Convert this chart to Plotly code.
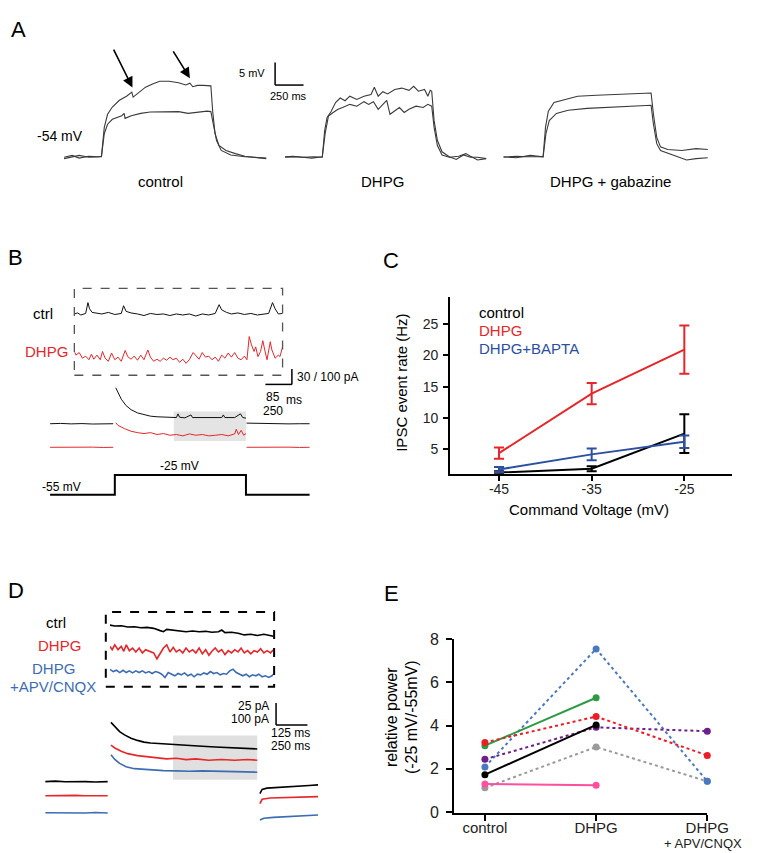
import plotly.graph_objects as go

# ---------------- DATA ----------------
# Panel A: membrane potential traces (time ms, potential mV)
a_ctrl_up_t = [0, 71, 133, 217, 300, 329, 354, 383, 425, 487, 550, 579, 596, 608, 654, 717, 779, 842,
               925, 1008, 1071, 1108, 1133, 1175, 1225, 1292, 1308, 1329, 1363, 1425, 1508, 1592, 1675, 1779]
a_ctrl_up_v = [-54.1, -53.7, -54.3, -53.9, -54, -53.9, -47.5, -44.6, -43.0, -41.5, -40.6, -40.1, -39.7, -40.8,
               -39.9, -38.6, -37.9, -37.3, -37.3, -37.6, -38.1, -37.7, -38.5, -38.2, -38.2, -38.3, -43.9, -48.9,
               -51.5, -52.6, -53.3, -53.9, -54.1, -54.4]
a_ctrl_lo_t = [0, 71, 133, 217, 329, 354, 383, 425, 508, 529, 537, 592, 675, 758, 883, 1008, 1092, 1175, 1258,
               1292, 1313, 1342, 1383, 1467, 1592, 1779]
a_ctrl_lo_v = [-54.4, -54, -53.7, -54.1, -54, -48.9, -46.8, -45.7, -44.9, -44.4, -45.5, -44.9, -44.4, -44.1,
               -44.1, -44.0, -44.4, -44.1, -43.9, -44, -46.8, -50.4, -52.6, -53.6, -54, -54.3]
a_dhpg_up_t = [0, 71, 154, 258, 329, 350, 371, 404, 446, 487, 529, 571, 633, 696, 758, 787, 821, 862, 904, 967,
               1029, 1092, 1133, 1175, 1229, 1258, 1279, 1292, 1313, 1342, 1383, 1446, 1508, 1571, 1633, 1696, 1771]
a_dhpg_up_v = [-54, -53.9, -54.1, -54, -54.1, -48.2, -45.3, -44.1, -42.0, -41.0, -41.6, -40.6, -41.3, -40.6,
               -40.2, -38.6, -40.6, -39.6, -40.1, -39.1, -38.8, -39.3, -38.4, -39.5, -39.1, -40.6, -39.3, -39.5,
               -46.0, -50.4, -52.9, -54, -54.6, -53.6, -54.1, -54.1, -54.4]
a_dhpg_lo_t = [0, 112, 237, 329, 354, 383, 425, 467, 508, 571, 633, 696, 737, 779, 821, 862, 896, 925, 967, 1008,
               1050, 1092, 1154, 1217, 1258, 1292, 1313, 1342, 1383, 1446, 1529, 1592, 1633, 1696, 1771]
a_dhpg_lo_v = [-54.1, -54, -54.3, -54, -48.9, -45, -44.2, -43.5, -43.1, -42.4, -42.8, -41.8, -42.4, -41.8, -43.5,
               -42.4, -41.5, -44.6, -43.8, -43.1, -44.2, -43.5, -42.8, -43.1, -42.4, -42.8, -47.5, -51.5, -53.6,
               -54.1, -53.9, -53.3, -53.9, -54.7, -54.4]
a_gbz_up_t = [0, 112, 237, 350, 371, 396, 446, 529, 654, 821, 987, 1154, 1300, 1321, 1350, 1383, 1446, 1571,
              1696, 1800]
a_gbz_up_v = [-54.1, -53.9, -54, -54, -47.5, -43.9, -42.0, -41.5, -40.6, -40.4, -40.2, -40, -39.9, -44.6, -49.7,
              -51.8, -52.4, -52.6, -52.2, -52.4]
a_gbz_lo_t = [0, 112, 237, 350, 375, 404, 467, 571, 737, 904, 1071, 1300, 1321, 1350, 1383, 1488, 1613, 1696, 1800]
a_gbz_lo_v = [-54, -54.2, -53.7, -54, -48.9, -46, -44.4, -43.7, -43.3, -43.1, -42.8, -42.6, -46.8, -51.1, -52.6,
              -53.6, -54.7, -54.4, -54.2]

# Panel B: inset IPSCs (time ms, current pA)
b_ins_ctrl_t = [0, 10, 20, 35, 42, 47, 55, 70, 85, 105, 125, 145, 152, 160, 175, 195, 215, 235, 255, 275, 295,
                315, 335, 355, 375, 395, 415, 435, 447, 455, 470, 485, 505, 525, 545, 565, 585, 600, 612, 620,
                630, 643]
b_ins_ctrl_i = [0, 2, -2, 1, 22, 10, 3, 2, 0, 3, -1, 1, 16, 5, 2, 0, -3, 1, -1, 0, -3, 0, -2, 0, -4, 0, -2, 1,
                18, 8, 3, 0, 2, -1, 1, -2, 0, 1, 22, 10, 0, 1]
b_ins_dhpg_t = [0, 5, 15, 25, 35, 45, 53, 60, 70, 80, 87, 95, 105, 115, 125, 135, 145, 157, 165, 175, 185, 195,
                205, 215, 227, 235, 245, 255, 265, 275, 285, 295, 305, 315, 325, 335, 345, 355, 367, 375, 385,
                395, 405, 415, 425, 435, 445, 455, 465, 475, 485, 495, 505, 515, 525, 533, 540, 547, 555, 560,
                567, 575, 582, 588, 595, 605, 610, 620, 630, 635, 643]
b_ins_dhpg_i = [13, 6, 11, 0, 4, -3, 8, -2, 6, -3, 13, 0, -6, 10, -3, 2, -6, 15, 3, -2, 4, -4, 6, -3, 16, 2, -6,
                -2, -6, 0, -4, 2, -3, 0, -8, -2, -10, -3, 11, 6, -2, 11, 2, 4, -3, 2, -6, 6, 0, 10, 2, 11, 0, -3,
                4, -3, 42, 26, 13, 22, 3, 13, 34, 16, -3, 32, 16, 0, 6, 3, 22]
# Panel B: whole-cell currents (time ms, current pA) and command voltage
b_ctrl_t = [0, 100, 200, 300, 400, 500, 595, None, 619, 640, 671, 717, 763, 824, 885, 946, 1007, 1068, 1129,
            1190, 1205, 1220, 1270, 1327, 1342, 1434, 1525, 1617, 1632, 1647, 1739, 1793, 1815, 1845, None,
            1851, 1950, 2050, 2150, 2250, 2350, 2446]
b_ctrl_i = [0, 2, -1, 1, -2, 1, 0, None, 233, 201, 159, 117, 91, 70, 57, 49, 45, 42, 40, 40, 64, 42, 38, 57,
            40, 40, 38, 40, 57, 40, 40, 64, 40, 36, None, 4, 2, 0, 1, -1, 0, 0]
b_dhpg_t = [0, 100, 200, 300, 400, 500, 595, None, 619, 640, 701, 763, 824, 885, 946, 1007, 1068, 1129, 1190,
            1251, 1312, 1373, 1434, 1495, 1556, 1617, 1678, 1739, 1754, 1775, 1800, 1824, 1845, None, 1851,
            1950, 2050, 2150, 2250, 2350, 2446]
b_dhpg_i = [0, 1, -1, 0, 1, -1, 0, None, 159, 142, 121, 104, 95, 89, 95, 83, 89, 78, 83, 74, 87, 78, 83, 74,
            78, 83, 74, 87, 117, 83, 110, 78, 89, None, 0, 1, -1, 0, 1, -1, 0]
b_cmd_t = [0, 610, 610, 1845, 1845, 2446]
b_cmd_v = [-55, -55, -25, -25, -55, -55]

# Panel C: IPSC event rate vs command voltage
c_voltage = [-45, -35, -25]
c_control = [1.3, 1.9, 7.5]
c_control_err = [0.2, 0.4, 3.1]
c_dhpg = [4.4, 13.9, 20.9]
c_dhpg_err = [0.9, 1.7, 3.85]
c_bapta = [1.8, 4.2, 6.2]
c_bapta_err = [0.4, 0.95, 1.0]

# Panel D: insets (time ms, current pA)
d_ins_t_ctrl = [0, 19, 45, 71, 97, 123, 148, 174, 200, 213, 226, 252, 277, 303, 329, 355, 381, 406, 432, 445,
                458, 484, 510, 535, 561, 587, 613, 639, 651]
d_ins_ctrl = [5.6, 4.5, 4.9, 3.4, 3.7, 2.6, 3.0, 1.9, -0.7, -1.9, 0.7, 0, -0.4, -1.9, -1.1, -1.9, -1.5, -2.6,
              -1.9, 0, -3.0, -2.6, -3.7, -5.6, -4.9, -6.3, -4.9, -6.3, -7.1]
d_ins_t_dhpg = [0, 9, 19, 32, 45, 55, 65, 77, 90, 103, 116, 129, 142, 161, 174, 187, 200, 213, 226, 239, 252,
                264, 277, 290, 303, 316, 329, 342, 355, 368, 381, 394, 406, 419, 432, 445, 458, 471, 484, 497,
                510, 522, 535, 548, 561, 574, 587, 600, 613, 626, 639, 651]
d_ins_dhpg = [4.8, 1.1, 6.7, 1.1, 4.8, -0.7, 6.7, 0, 3.0, -1.5, 3.0, -2.6, 1.1, -1.5, -2.6, -9.3, -2.6, 3.0,
              6.7, -1.5, 3.7, -1.5, 1.1, -2.6, 3.0, -1.5, 1.1, -2.6, 3.0, -3.7, 1.1, -5.2, -0.7, 3.0, -1.5, 1.1,
              -4.5, 0, -2.6, 1.1, -1.5, 3.0, -2.6, 0, -3.7, 0, -1.5, 2.2, -2.6, 0, -2.6, 1.1]
d_ins_t_apv = [0, 13, 26, 39, 52, 65, 77, 90, 103, 116, 129, 142, 155, 168, 181, 194, 206, 219, 232, 245, 258,
               271, 284, 297, 310, 323, 335, 348, 361, 374, 387, 400, 413, 426, 439, 452, 464, 477, 490, 503,
               516, 529, 542, 555, 568, 581, 593, 606, 619, 632, 645, 651]
d_ins_apv = [3.7, 1.1, 2.6, 0, 2.6, 0, 1.9, -0.4, 1.9, 0, 1.9, -0.4, 1.1, -1.1, 1.1, 0, -1.9, -5.6, 0, -1.9,
             -3.7, -1.1, -2.6, -0.4, -3.7, -1.9, -4.8, -1.9, -2.6, -0.4, -1.9, 1.1, -1.1, 0, -2.6, -1.1, -1.9,
             1.9, 3.7, 0, -1.9, -3.7, -1.9, -4.8, -2.6, -3.7, -1.9, -4.8, -3.7, -5.6, -3.7, -1.9]
# Panel D: whole-cell currents (time ms, current pA)
d_ctrl_t = [0, 80, 160, 240, 320, 400, 498, None, 524, 555, 593, 632, 684, 735, 787, 839, 916, 993, 1071, 1148,
            1251, 1355, 1458, 1561, 1638, 1690, None, 1711, 1729, 1767, 1845, 1922, 2025, 2103, 2175]
d_ctrl_i = [0, 2, -1, 1, 0, -2, 0, None, 270, 250, 228, 213, 198, 188, 180, 176, 173, 168, 167, 164, 161, 158,
            156, 153, 152, 149, None, -55, -36, -30, -28, -25, -21, -18, -15]
d_dhpg_t = [0, 80, 160, 240, 320, 400, 498, None, 524, 555, 606, 658, 735, 813, 890, 968, 1045, 1123, 1200,
            1303, 1406, 1509, 1612, 1690, None, 1711, 1729, 1793, 1896, 2025, 2175]
d_dhpg_i = [0, 1, -1, 2, 0, 1, 0, None, 231, 218, 203, 192, 183, 177, 173, 168, 171, 165, 168, 162, 165, 162,
            165, 162, None, -36, -16, -10, -9, -7, -4]
d_apv_t = [0, 80, 160, 240, 320, 400, 498, None, 524, 555, 593, 645, 710, 787, 864, 942, 1045, 1148, 1251, 1355,
           1458, 1561, 1638, 1690, None, 1711, 1742, 1819, 1922, 2025, 2103, 2175]
d_apv_i = [0, -1, 1, 0, -1, 1, -1, None, 265, 243, 225, 210, 201, 198, 194, 192, 191, 189, 191, 189, 189, 188,
           186, 185, None, -33, -25, -21, -18, -13, -10, -10]

# Panel E: relative power
e_conditions = [0, 1, 2]
e_ticktext = ["control", "DHPG", "DHPG"]
e_ticktext_extra = "+ APV/CNQX"
e_gray = [1.12, 3.01, 1.42]
e_pink = [1.30, 1.24, None]
e_blue = [2.09, 7.55, 1.42]
e_purple = [2.44, 3.92, 3.74]
e_black = [1.73, 4.03, None]
e_green = [3.07, 5.29, None]
e_red = [3.22, 4.42, 2.62]

# ---------------- LAYOUT HELPERS ----------------
W, H = 765, 853
FONT = "Liberation Sans, Arial, sans-serif"
RED = "#e8262a"
BLUE_C = "#2b4fa2"
BLUE_D = "#3d6cb5"


def px(x):
    return x / W


def py(y):
    return 1 - y / H


def xdom(a, b):
    return [a / W, b / W]


def ydom(top, bottom):
    return [1 - bottom / H, 1 - top / H]


fig = go.Figure()
layout = {}


def hidden(n, xd, yd, xr, yr):
    layout[f"xaxis{n}"] = dict(domain=xd, range=xr, visible=False, anchor=f"y{n}", fixedrange=True)
    layout[f"yaxis{n}"] = dict(domain=yd, range=yr, visible=False, anchor=f"x{n}", fixedrange=True)


def line(t, v, n, color, width):
    fig.add_trace(go.Scatter(x=t, y=v, xaxis=f"x{n}", yaxis=f"y{n}", mode="lines",
                             line=dict(color=color, width=width), hoverinfo="skip",
                             connectgaps=False, cliponaxis=False))


# Panel A axes
A_YD = ydom(32.9, 161.7)
hidden(3, xdom(57.7, 268.3), A_YD, [0, 1800], [-58, -30])
hidden(4, xdom(285.1, 495.7), A_YD, [0, 1800], [-58, -30])
hidden(5, xdom(510, 720.6), A_YD, [0, 1800], [-58, -30])
TR = "#3a3a3a"
line(a_ctrl_up_t, a_ctrl_up_v, 3, TR, 1.1)
line(a_ctrl_lo_t, a_ctrl_lo_v, 3, TR, 1.1)
line(a_dhpg_up_t, a_dhpg_up_v, 4, TR, 1.1)
line(a_dhpg_lo_t, a_dhpg_lo_v, 4, TR, 1.1)
line(a_gbz_up_t, a_gbz_up_v, 5, TR, 1.1)
line(a_gbz_lo_t, a_gbz_lo_v, 5, TR, 1.1)

# Panel B axes
hidden(6, xdom(68.3, 282.7), ydom(282.3, 313.8), [0, 643], [-20, 40])
hidden(7, xdom(68.3, 282.7), ydom(322.1, 358.8), [0, 643], [-20, 50])
hidden(8, xdom(43.3, 310.7), ydom(374.2, 421.3), [0, 2446], [-40, 260])
hidden(9, xdom(43.3, 310.7), ydom(407.6, 445.3), [0, 2446], [-40, 200])
hidden(10, xdom(43.3, 310.7), ydom(464, 490.6), [0, 2446], [-60, -20])
line(b_ins_ctrl_t, b_ins_ctrl_i, 6, "#111111", 1)
line(b_ins_dhpg_t, b_ins_dhpg_i, 7, RED, 1)
line(b_ctrl_t, b_ctrl_i, 8, "#111111", 1)
line(b_dhpg_t, b_dhpg_i, 9, RED, 1)
line(b_cmd_t, b_cmd_v, 10, "#000000", 2)

# Panel D axes
hidden(11, xdom(105, 273.3), ydom(614.3, 635.7), [0, 651], [-12, 12])
hidden(12, xdom(105, 273.3), ydom(635.3, 656.7), [0, 651], [-12, 12])
hidden(13, xdom(105, 273.3), ydom(657.6, 679), [0, 651], [-12, 12])
hidden(14, xdom(38.3, 319.3), ydom(714.6, 794.9), [0, 2175], [-70, 290])
hidden(15, xdom(38.3, 319.3), ydom(737.9, 804.9), [0, 2175], [-50, 250])
hidden(16, xdom(38.3, 319.3), ydom(748.5, 822.2), [0, 2175], [-50, 280])
line(d_ins_t_ctrl, d_ins_ctrl, 11, "#000000", 1.6)
line(d_ins_t_dhpg, d_ins_dhpg, 12, RED, 1.6)
line(d_ins_t_apv, d_ins_apv, 13, BLUE_D, 1.6)
line(d_ctrl_t, d_ctrl_i, 14, "#000000", 1.6)
line(d_dhpg_t, d_dhpg_i, 15, RED, 1.6)
line(d_apv_t, d_apv_i, 16, BLUE_D, 1.6)

# Panel C
for vals, err, col in [(c_control, c_control_err, "#000000"),
                       (c_bapta, c_bapta_err, BLUE_C),
                       (c_dhpg, c_dhpg_err, RED)]:
    fig.add_trace(go.Scatter(x=c_voltage, y=vals, xaxis="x", yaxis="y", mode="lines",
                             line=dict(color=col, width=2),
                             error_y=dict(type="data", array=err, color=col, thickness=2, width=5),
                             hoverinfo="skip", cliponaxis=False))

layout["xaxis"] = dict(domain=xdom(455, 745), range=[-50.3, -19.9], showline=True, linecolor="black",
                       linewidth=1.5, ticks="outside", ticklen=5, tickwidth=1.5, tickcolor="black",
                       tickvals=c_voltage, ticktext=[str(v) for v in c_voltage], showgrid=False,
                       zeroline=False, tickfont=dict(size=14, color="#222"), anchor="y", fixedrange=True,
                       ticklabelstandoff=-3)
layout["yaxis"] = dict(domain=ydom(286, 466), range=[1.1, 29.3], showline=True, linecolor="black",
                       linewidth=1.5, ticks="outside", ticklen=5, tickwidth=1.5, tickcolor="black",
                       tickvals=[5, 10, 15, 20, 25], showgrid=False, zeroline=False,
                       tickfont=dict(size=14, color="#222"), anchor="x", fixedrange=True,
                       ticklabelstandoff=2)

# Panel E
for vals, col, dash in [(e_gray, "#9a9a9a", "dot"), (e_pink, "#ff4f9e", "solid"),
                        (e_blue, "#4a78c0", "dot"), (e_purple, "#6f1f8a", "dot"),
                        (e_black, "#000000", "solid"), (e_green, "#2e9a44", "solid"),
                        (e_red, "#ee1c24", "dot")]:
    fig.add_trace(go.Scatter(x=e_conditions, y=vals, xaxis="x2", yaxis="y2", mode="lines+markers",
                             line=dict(color=col, width=2, dash=dash), marker=dict(color=col, size=7),
                             connectgaps=False, hoverinfo="skip", cliponaxis=False))

layout["xaxis2"] = dict(domain=xdom(459, 720), range=[-0.28, 2.0], showline=True, linecolor="black",
                        linewidth=1.5, ticks="outside", ticklen=6, tickwidth=1.5, tickcolor="black",
                        tickvals=e_conditions, ticktext=e_ticktext, showgrid=False, zeroline=False,
                        tickfont=dict(size=15, color="#222"), anchor="y2", fixedrange=True,
                        ticklabelstandoff=-6)
layout["yaxis2"] = dict(domain=ydom(634.3, 811.7), range=[-0.064, 8], showline=True, linecolor="black",
                        linewidth=1.5, ticks="outside", ticklen=6, tickwidth=1.5, tickcolor="black",
                        tickvals=[0, 2, 4, 6, 8], showgrid=False, zeroline=False,
                        tickfont=dict(size=16, color="#222"), anchor="x2", fixedrange=True,
                        ticklabelstandoff=4)

# ---------------- SHAPES ----------------
shapes = []


def seg(x0, y0, x1, y1, color="black", width=1.5, dash=None):
    shapes.append(dict(type="line", xref="paper", yref="paper", x0=px(x0), y0=py(y0), x1=px(x1), y1=py(y1),
                       line=dict(color=color, width=width, dash=dash)))


# A scale bar
seg(275, 47.3, 275, 70.3)
seg(275, 70.3, 304.3, 70.3)
# B dashed box + gray window + scale bar
shapes.append(dict(type="rect", xref="paper", yref="paper", x0=px(68.3), x1=px(282.7), y0=py(365.7),
                   y1=py(277.3), line=dict(color="#555", width=1.3, dash="dash")))
shapes.append(dict(type="rect", xref="x8", yref="paper", x0=1165, x1=1845, y0=py(432.7), y1=py(402.7),
                   fillcolor="#e4e4e4", line=dict(width=0), layer="below"))
seg(292.3, 359.3, 292.3, 375)
seg(265, 375, 292.3, 375)
# D dashed box + gray window + scale bar
shapes.append(dict(type="rect", xref="paper", yref="paper", x0=px(100.7), x1=px(274), y0=py(682.7),
                   y1=py(606.7), line=dict(color="black", width=2, dash="dash")))
shapes.append(dict(type="rect", xref="x14", yref="paper", x0=1019, x1=1690, y0=py(777.3), y1=py(732.3),
                   fillcolor="#e0e0e0", line=dict(width=0), layer="below"))
seg(276, 699.3, 276, 721.7)
seg(276, 721.7, 308.3, 721.7)

# ---------------- TEXT ----------------
ann = []


def txt(x, y, s, size=14, color="black", xanchor="center", angle=0, yanchor="middle"):
    ann.append(dict(x=px(x), y=py(y), xref="paper", yref="paper", text=s, showarrow=False,
                    xanchor=xanchor, yanchor=yanchor, textangle=angle,
                    font=dict(size=size, color=color, family=FONT)))


# panel letters
for s, x, y in [("A", 11, 13.3), ("B", 8, 246), ("C", 394, 249), ("D", 8.5, 585), ("E", 395, 588)]:
    txt(x, y, s, size=22)

# A texts
txt(54, 121.7, "-54 mV", 14)
txt(157.5, 168.3, "control", 15)
txt(385.3, 168.3, "DHPG", 15)
txt(620, 168.3, "DHPG + gabazine", 15)
txt(266.5, 58.3, "5 mV", 11, xanchor="right")
txt(289.2, 81.7, "250 ms", 11)
for (tx, ty, hx, hy) in [(108.6, 33.3, 128.1, 72.7), (169.7, 35, 187.3, 63.3)]:
    ann.append(dict(x=px(hx), y=py(hy), xref="paper", yref="paper", ax=tx - hx, ay=ty - hy,
                    axref="pixel", ayref="pixel", text="", showarrow=True, arrowhead=2,
                    arrowsize=1.3, arrowwidth=1.6, arrowcolor="black"))

# B texts
txt(36, 303.3, "ctrl", 15)
txt(39.3, 341, "DHPG", 15, color=RED)
txt(295, 367, "30 / 100 pA", 12, xanchor="left")
txt(273.3, 387.7, "85", 12)
txt(273.3, 401.7, "250", 12)
txt(294.7, 390.7, "ms", 12)
txt(176.7, 458.3, "-25 mV", 12)
txt(55, 479, "-55 mV", 12)

# C texts
txt(483, 302.3, "control", 15, xanchor="left")
txt(483, 320, "DHPG", 15, color=RED, xanchor="left")
txt(483, 338.3, "DHPG+BAPTA", 15, color=BLUE_C, xanchor="left")
txt(405, 373, "IPSC event rate (Hz)", 15, angle=-90)
txt(598.3, 502, "Command Voltage (mV)", 15)

# D texts
txt(49.3, 617.3, "ctrl", 15)
txt(52.7, 641, "DHPG", 15, color=RED)
txt(46.7, 664.3, "DHPG", 15, color=BLUE_D)
txt(46.7, 682.3, "+APV/CNQX", 15, color=BLUE_D)
txt(271, 702.3, "25 pA", 12, xanchor="right")
txt(271, 716, "100 pA", 12, xanchor="right")
txt(291, 730, "125 ms", 12)
txt(291, 743.3, "250 ms", 12)

# E texts
txt(405, 713.3, "relative power<br>(-25 mV/-55mV)", 16, angle=-90)
txt(716, 852, e_ticktext_extra, 13, color="#222", yanchor="bottom")

fig.update_layout(width=W, height=H, autosize=False, margin=dict(l=0, r=0, t=0, b=0),
                  paper_bgcolor="white", plot_bgcolor="rgba(0,0,0,0)", showlegend=False,
                  font=dict(family=FONT, color="black"), shapes=shapes, annotations=ann, **layout)

fig.write_html("out.html")
